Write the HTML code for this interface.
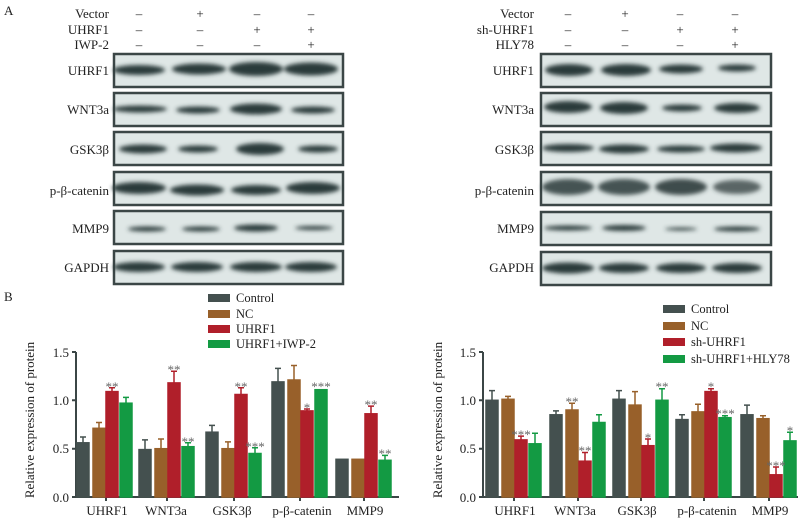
<!DOCTYPE html><html><head><meta charset="utf-8"><style>
html,body{margin:0;padding:0;background:#fff}
svg{display:block;font-family:"Liberation Serif",serif}
</style></head><body>
<svg width="806" height="526" viewBox="0 0 806 526" xmlns="http://www.w3.org/2000/svg">
<defs><filter id="b" x="-20%" y="-100%" width="140%" height="300%"><feGaussianBlur stdDeviation="2.2"/></filter></defs>
<g font-size="13" fill="#222">
<text x="4" y="15">A</text><text x="4" y="301">B</text>
<g text-anchor="end">
<text x="109" y="18">Vector</text><text x="109" y="34">UHRF1</text><text x="109" y="49">IWP-2</text>
<text x="534" y="18">Vector</text><text x="534" y="34">sh-UHRF1</text><text x="534" y="49">HLY78</text>
<text x="109" y="75">UHRF1</text><text x="109" y="114">WNT3a</text><text x="109" y="154">GSK3β</text><text x="109" y="195">p-β-catenin</text><text x="109" y="233">MMP9</text><text x="109" y="272">GAPDH</text>
<text x="534" y="75">UHRF1</text><text x="534" y="114">WNT3a</text><text x="534" y="154">GSK3β</text><text x="534" y="195">p-β-catenin</text><text x="534" y="233">MMP9</text><text x="534" y="272">GAPDH</text>
</g>
<g text-anchor="middle">
<text x="139" y="18">–</text><text x="200" y="18">+</text><text x="257" y="18">–</text><text x="311" y="18">–</text>
<text x="139" y="34">–</text><text x="200" y="34">–</text><text x="257" y="34">+</text><text x="311" y="34">+</text>
<text x="139" y="49">–</text><text x="200" y="49">–</text><text x="257" y="49">–</text><text x="311" y="49">+</text>
<text x="568" y="18">–</text><text x="625" y="18">+</text><text x="680" y="18">–</text><text x="735" y="18">–</text>
<text x="568" y="34">–</text><text x="625" y="34">–</text><text x="680" y="34">+</text><text x="735" y="34">+</text>
<text x="568" y="49">–</text><text x="625" y="49">–</text><text x="680" y="49">–</text><text x="735" y="49">+</text>
</g></g>
<g fill="#dfe7e6" stroke="#3b4646" stroke-width="2.5">
<rect x="114" y="54" width="229" height="33"/><rect x="114" y="93" width="229" height="33"/><rect x="114" y="132" width="229" height="33"/><rect x="114" y="172" width="229" height="33"/><rect x="114" y="211" width="229" height="33"/><rect x="114" y="251" width="229" height="33"/>
<rect x="541" y="54" width="230" height="33"/><rect x="541" y="93" width="230" height="33"/><rect x="541" y="132" width="230" height="33"/><rect x="541" y="172" width="230" height="33"/><rect x="541" y="212" width="230" height="33"/><rect x="541" y="252" width="230" height="33"/>
</g>
<g fill="#2c3a3a" filter="url(#b)">
<ellipse cx="139" cy="70" rx="26" ry="5"/><ellipse cx="199" cy="69" rx="27" ry="5.5"/><ellipse cx="256" cy="69" rx="27" ry="7"/><ellipse cx="311" cy="69" rx="27" ry="6.5"/>
<ellipse cx="140" cy="109" rx="27" ry="3.5"/><ellipse cx="198" cy="110" rx="22" ry="3.5"/><ellipse cx="256" cy="109" rx="26" ry="5.5"/><ellipse cx="313" cy="110" rx="22" ry="3.5"/>
<ellipse cx="143" cy="149" rx="24" ry="4.5"/><ellipse cx="198" cy="149" rx="20" ry="3.5"/><ellipse cx="260" cy="149" rx="24" ry="6"/><ellipse cx="318" cy="149" rx="20" ry="3.5"/>
<ellipse cx="139" cy="188" rx="27" ry="6"/><ellipse cx="197" cy="190" rx="27" ry="5.5"/><ellipse cx="256" cy="190" rx="25" ry="5"/><ellipse cx="313" cy="188" rx="27" ry="6"/>
<ellipse cx="147" cy="229" rx="19" ry="2.5"/><ellipse cx="201" cy="229" rx="19" ry="2.5"/><ellipse cx="256" cy="228" rx="22" ry="3.5"/><ellipse cx="314" cy="228" rx="19" ry="2"/>
<ellipse cx="139" cy="267" rx="26" ry="5"/><ellipse cx="197" cy="267" rx="26" ry="5"/><ellipse cx="256" cy="267" rx="26" ry="5"/><ellipse cx="311" cy="267" rx="26" ry="5"/>
<ellipse cx="569" cy="70" rx="24" ry="6"/><ellipse cx="626" cy="70" rx="25" ry="6"/><ellipse cx="681" cy="69" rx="22" ry="4.5"/><ellipse cx="737" cy="68" rx="19" ry="3.5"/>
<ellipse cx="568" cy="107" rx="24" ry="6"/><ellipse cx="624" cy="108" rx="24" ry="6"/><ellipse cx="682" cy="108" rx="20" ry="3.5"/><ellipse cx="737" cy="108" rx="23" ry="5"/>
<ellipse cx="568" cy="148" rx="26" ry="4"/><ellipse cx="624" cy="149" rx="25" ry="4.5"/><ellipse cx="681" cy="149" rx="24" ry="3.5"/><ellipse cx="736" cy="148" rx="26" ry="4.5"/>
<ellipse cx="568" cy="187" rx="26" ry="8" opacity=".85"/><ellipse cx="624" cy="187" rx="26" ry="8" opacity=".85"/><ellipse cx="681" cy="187" rx="26" ry="8" opacity=".9"/><ellipse cx="737" cy="187" rx="24" ry="7" opacity=".75"/>
<ellipse cx="568" cy="228" rx="24" ry="2.5"/><ellipse cx="624" cy="228" rx="22" ry="3"/><ellipse cx="681" cy="229" rx="16" ry="1.5"/><ellipse cx="737" cy="229" rx="23" ry="2.5"/>
<ellipse cx="568" cy="268" rx="26" ry="5.5"/><ellipse cx="624" cy="268" rx="25" ry="5"/><ellipse cx="681" cy="268" rx="25" ry="5"/><ellipse cx="737" cy="268" rx="25" ry="5"/>
</g>
<g font-size="12.5" fill="#222">
<rect x="208" y="294" width="22" height="8" fill="#44504f"/><text x="236" y="302">Control</text>
<rect x="208" y="310" width="22" height="8" fill="#98602a"/><text x="236" y="318">NC</text>
<rect x="208" y="325" width="22" height="8" fill="#b01f2a"/><text x="236" y="333">UHRF1</text>
<rect x="208" y="340" width="22" height="8" fill="#139a43"/><text x="236" y="348">UHRF1+IWP-2</text>
<rect x="663" y="305" width="22" height="8" fill="#44504f"/><text x="691" y="313">Control</text>
<rect x="663" y="322" width="22" height="8" fill="#98602a"/><text x="691" y="330">NC</text>
<rect x="663" y="338" width="22" height="8" fill="#b01f2a"/><text x="691" y="346">sh-UHRF1</text>
<rect x="663" y="355" width="22" height="8" fill="#139a43"/><text x="691" y="363">sh-UHRF1+HLY78</text>
</g>
<g stroke="#3b4646" stroke-width="2" fill="none">
<path d="M76 352V497H399"/><path d="M72 352H76M72 400.3H76M72 448.7H76M72 497H76"/>
<path d="M106 497v4M167 497v4M234 497v4M300 497v4M364 497v4"/>
<path d="M483 352V497H798"/><path d="M479 352H483M479 400.3H483M479 448.7H483M479 497H483"/>
<path d="M514 497v4M578 497v4M641 497v4M704 497v4M769 497v4"/>
</g>
<g font-size="13" fill="#222" text-anchor="end">
<text x="69" y="357">1.5</text><text x="69" y="405">1.0</text><text x="69" y="453">0.5</text><text x="69" y="502">0.0</text>
<text x="476" y="357">1.5</text><text x="476" y="405">1.0</text><text x="476" y="453">0.5</text><text x="476" y="502">0.0</text>
</g>
<g font-size="13" fill="#222" text-anchor="middle">
<text transform="translate(34,420) rotate(-90)">Relative expression of protein</text>
<text transform="translate(442,420) rotate(-90)">Relative expression of protein</text>
<text x="107" y="515">UHRF1</text><text x="166" y="515">WNT3a</text><text x="232" y="515">GSK3β</text><text x="302" y="515">p-β-catenin</text><text x="365" y="515">MMP9</text>
<text x="515" y="515">UHRF1</text><text x="575" y="515">WNT3a</text><text x="637" y="515">GSK3β</text><text x="707" y="515">p-β-catenin</text><text x="770" y="515">MMP9</text>
</g>
<g fill="#44504f" stroke="#44504f" stroke-width="1.5">
<rect x="77" y="442.8" width="12" height="54.2"/><path d="M83 442.8V437M80 437h6" fill="none"/>
<rect x="139" y="449.6" width="12" height="47.4"/><path d="M145 449.6V439.9M142 439.9h6" fill="none"/>
<rect x="206" y="432.2" width="12" height="64.8"/><path d="M212 432.2V425.4M209 425.4h6" fill="none"/>
<rect x="272" y="381.9" width="12" height="115.1"/><path d="M278 381.9V368.4M275 368.4h6" fill="none"/>
<rect x="336" y="459.3" width="12" height="37.7"/>
<rect x="486" y="400.3" width="12" height="96.7"/><path d="M492 400.3V390.6M489 390.6h6" fill="none"/>
<rect x="550" y="414.8" width="12" height="82.2"/><path d="M556 414.8V410.9M553 410.9h6" fill="none"/>
<rect x="613" y="399.3" width="12" height="97.7"/><path d="M619 399.3V390.6M616 390.6h6" fill="none"/>
<rect x="676" y="419.6" width="12" height="77.4"/><path d="M682 419.6V414.8M679 414.8h6" fill="none"/>
<rect x="741" y="414.8" width="12" height="82.2"/><path d="M747 414.8V405.1M744 405.1h6" fill="none"/>
</g>
<g fill="#98602a" stroke="#98602a" stroke-width="1.5">
<rect x="93" y="428.3" width="12" height="68.7"/><path d="M99 428.3V422.5M96 422.5h6" fill="none"/>
<rect x="155" y="448.7" width="12" height="48.3"/><path d="M161 448.7V439M158 439h6" fill="none"/>
<rect x="222" y="448.7" width="12" height="48.3"/><path d="M228 448.7V441.9M225 441.9h6" fill="none"/>
<rect x="288" y="380" width="12" height="117"/><path d="M294 380V365.5M291 365.5h6" fill="none"/>
<rect x="352" y="459.3" width="12" height="37.7"/>
<rect x="502" y="399.3" width="12" height="97.7"/><path d="M508 399.3V396.4M505 396.4h6" fill="none"/>
<rect x="566" y="410" width="12" height="87"/><path d="M572 410V403.2M569 403.2h6" fill="none"/>
<rect x="629" y="405.1" width="12" height="91.9"/><path d="M635 405.1V391.6M632 391.6h6" fill="none"/>
<rect x="692" y="411.9" width="12" height="85.1"/><path d="M698 411.9V404.2M695 404.2h6" fill="none"/>
<rect x="757" y="418.7" width="12" height="78.3"/><path d="M763 418.7V415.8M760 415.8h6" fill="none"/>
</g>
<g fill="#b01f2a" stroke="#b01f2a" stroke-width="1.5">
<rect x="106" y="391.6" width="12" height="105.4"/><path d="M112 391.6V387.7M109 387.7h6" fill="none"/>
<rect x="168" y="382.9" width="12" height="114.1"/><path d="M174 382.9V371.3M171 371.3h6" fill="none"/>
<rect x="235" y="394.5" width="12" height="102.5"/><path d="M241 394.5V387.7M238 387.7h6" fill="none"/>
<rect x="301" y="410.9" width="12" height="86.1"/><path d="M307 410.9V409M304 409h6" fill="none"/>
<rect x="365" y="413.8" width="12" height="83.2"/><path d="M371 413.8V406.1M368 406.1h6" fill="none"/>
<rect x="515" y="439.9" width="12" height="57.1"/><path d="M521 439.9V436.1M518 436.1h6" fill="none"/>
<rect x="579" y="461.2" width="12" height="35.8"/><path d="M585 461.2V452.5M582 452.5h6" fill="none"/>
<rect x="642" y="445.7" width="12" height="51.3"/><path d="M648 445.7V439M645 439h6" fill="none"/>
<rect x="705" y="391.6" width="12" height="105.4"/><path d="M711 391.6V388.7M708 388.7h6" fill="none"/>
<rect x="770" y="474.8" width="12" height="22.2"/><path d="M776 474.8V467M773 467h6" fill="none"/>
</g>
<g fill="#139a43" stroke="#139a43" stroke-width="1.5">
<rect x="120" y="403.2" width="12" height="93.8"/><path d="M126 403.2V397.4M123 397.4h6" fill="none"/>
<rect x="182" y="446.7" width="12" height="50.3"/><path d="M188 446.7V442.8M185 442.8h6" fill="none"/>
<rect x="249" y="453.5" width="12" height="43.5"/><path d="M255 453.5V447.7M252 447.7h6" fill="none"/>
<rect x="315" y="389.7" width="12" height="107.3"/>
<rect x="379" y="460.3" width="12" height="36.7"/><path d="M385 460.3V455.4M382 455.4h6" fill="none"/>
<rect x="529" y="443.8" width="12" height="53.2"/><path d="M535 443.8V433.2M532 433.2h6" fill="none"/>
<rect x="593" y="422.5" width="12" height="74.5"/><path d="M599 422.5V414.8M596 414.8h6" fill="none"/>
<rect x="656" y="400.3" width="12" height="96.7"/><path d="M662 400.3V388.7M659 388.7h6" fill="none"/>
<rect x="719" y="417.7" width="12" height="79.3"/><path d="M725 417.7V415.8M722 415.8h6" fill="none"/>
<rect x="784" y="440.9" width="12" height="56.1"/><path d="M790 440.9V432.2M787 432.2h6" fill="none"/>
</g>
<g font-size="13" fill="#666" text-anchor="middle">
<text x="112" y="391">**</text><text x="174" y="374">**</text><text x="188" y="446">**</text>
<text x="241" y="391">**</text><text x="255" y="451">***</text>
<text x="307" y="412">*</text><text x="321" y="391">***</text>
<text x="371" y="409">**</text><text x="385" y="458">**</text>
<text x="521" y="439">***</text><text x="572" y="406">**</text><text x="585" y="455">**</text>
<text x="648" y="442">*</text><text x="662" y="391">**</text>
<text x="711" y="391">*</text><text x="725" y="418">***</text>
<text x="776" y="470">***</text><text x="790" y="435">*</text>
</g>
</svg>
</body></html>
